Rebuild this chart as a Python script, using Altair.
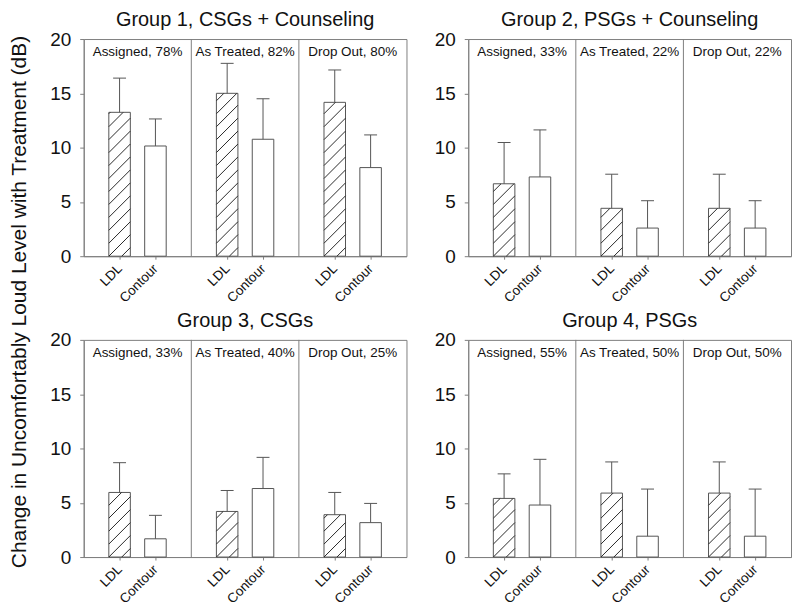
import altair as alt
import pandas as pd

# ---------------- data ----------------
groups = ["Group 1, CSGs + Counseling", "Group 2, PSGs + Counseling",
          "Group 3, CSGs", "Group 4, PSGs"]
sections = ["Assigned", "As Treated", "Drop Out"]
measures = ["LDL", "Contour"]
pct = [[78, 82, 80], [33, 22, 22], [33, 40, 25], [55, 50, 50]]
ldl_mean = [[13.25, 15.0, 14.17], [6.67, 4.41, 4.41], [5.95, 4.2, 3.9], [5.4, 5.89, 5.89]]
ldl_err = [[3.15, 2.76, 2.98], [3.8, 3.14, 3.14], [2.74, 1.93, 2.05], [2.26, 2.87, 2.87]]
contour_mean = [[10.15, 10.77, 8.16], [7.3, 2.59, 2.59], [1.68, 6.31, 3.17], [4.79, 1.92, 1.92]]
contour_err = [[2.49, 3.73, 3.01], [4.33, 2.52, 2.52], [2.16, 2.87, 1.77], [4.21, 4.34, 4.34]]
y_title = "Change in Uncomfortably Loud Level with Treatment (dB)"
y_ticks = [0, 5, 10, 15, 20]

# ---------------- layout / style ----------------
W, H = 324, 218
FONT = "Liberation Sans"
FRAME = "#808080"
EDGE = "#555555"
PX_X = W / 3.0
PX_Y = H / 20.0
HATCH_STEP = 13.0

xscale = alt.Scale(domain=[0, 3], nice=False, zero=False)
yscale = alt.Scale(domain=[0, 20], nice=False)

xaxis = alt.Axis(values=[i + (m + 1) / 3.0 for i in range(3) for m in range(2)],
                 labelExpr="(datum.value % 1) < 0.5 ? 'LDL' : 'Contour'",
                 labelAngle=315, labelAlign="right", labelBaseline="middle",
                 labelFontSize=13.5, labelFont=FONT, labelColor="#111",
                 labelPadding=7, tickSize=3, tickColor=FRAME, domainColor=FRAME,
                 labelOverlap=False, labelFlush=False, labelBound=False,
                 grid=False, title=None)
yaxis = alt.Axis(values=y_ticks, labelFontSize=19, labelFont=FONT, labelColor="#111",
                 labelPadding=9, tickSize=4, tickColor=FRAME, domainColor=FRAME,
                 labelFlush=False, labelOverlap=False,
                 grid=False, title=None)


def X(f):
    return alt.X(f, scale=xscale, axis=xaxis)


def Y(f):
    return alt.Y(f, scale=yscale, axis=yaxis)


def hatch_rows(x0, x1, v):
    bw = (x1 - x0) * PX_X
    hp = v * PX_Y
    out = []
    k = -int(bw // HATCH_STEP) - 1
    while k * HATCH_STEP < hp:
        c = k * HATCH_STEP
        xs = max(0.0, -c)
        xe = min(bw, hp - c)
        if xe - xs > 0.5:
            out.append(dict(hx0=x0 + xs / PX_X, hy0=(xs + c) / PX_Y,
                            hx1=x0 + xe / PX_X, hy1=(xe + c) / PX_Y))
        k += 1
    return out


def panel(g, with_title=False):
    rows, hatch = [], []
    for i in range(3):
        for m, name in enumerate(measures):
            mean = ldl_mean[g][i] if m == 0 else contour_mean[g][i]
            err = ldl_err[g][i] if m == 0 else contour_err[g][i]
            xc = i + (m + 1) / 3.0
            rows.append(dict(xc=xc, x0=xc - 0.1, x1=xc + 0.1, c0=xc - 0.06, c1=xc + 0.06,
                             mean=mean, top=mean + err, zero=0.0, measure=name))
            if m == 0:
                hatch += hatch_rows(xc - 0.1, xc + 0.1, mean)
    df = pd.DataFrame(rows)
    hdf = pd.DataFrame(hatch)
    ldf = pd.DataFrame(dict(lx=[i + 0.5 for i in range(3)], ly=[18.8] * 3,
                            t=[f"{sections[i]}, {pct[g][i]}%" for i in range(3)]))
    ddf = pd.DataFrame(dict(pos=[1, 2]))

    bars = alt.Chart(df).mark_bar(fill="white", stroke=EDGE, strokeWidth=1).encode(
        x=X("x0:Q"), x2="x1", y=Y("mean:Q"), y2="zero")
    hat = alt.Chart(hdf).mark_rule(color="#2a2a2a", strokeWidth=1).encode(
        x=X("hx0:Q"), x2="hx1", y=Y("hy0:Q"), y2="hy1")
    stems = alt.Chart(df).mark_rule(color=EDGE, strokeWidth=1).encode(
        x=X("xc:Q"), y=Y("mean:Q"), y2="top")
    caps = alt.Chart(df).mark_rule(color=EDGE, strokeWidth=1).encode(
        x=X("c0:Q"), x2="c1", y=Y("top:Q"))
    divs = alt.Chart(ddf).mark_rule(color=FRAME, strokeWidth=1).encode(x=X("pos:Q"))
    labels = alt.Chart(ldf).mark_text(fontSize=13.5, font=FONT, color="#111",
                                      align="center", baseline="middle").encode(
        x=X("lx:Q"), y=Y("ly:Q"), text="t:N")
    layers = [bars, hat, stems, caps, divs, labels]
    if with_title:
        tdf = pd.DataFrame(dict(t=[y_title]))
        ttl = alt.Chart(tdf).mark_text(angle=270, fontSize=21, font=FONT, color="#111",
                                       align="center", baseline="middle").encode(
            x=alt.value(-64), y=alt.value(264), text="t:N")
        layers.append(ttl)
    return alt.layer(*layers).properties(
        width=W, height=H,
        title=alt.TitleParams(groups[g], fontSize=20, font=FONT, fontWeight="normal",
                              color="#111", offset=0, anchor="middle"))


chart = alt.concat(panel(0, True), panel(1), panel(2), panel(3), columns=2,
                   spacing={"row": 84, "column": 62}, bounds="flush").properties(
    padding=0, background="white"
).configure_view(stroke=FRAME, strokeWidth=1)

chart.save("out.html", embed_options={"renderer": "svg", "actions": False})
